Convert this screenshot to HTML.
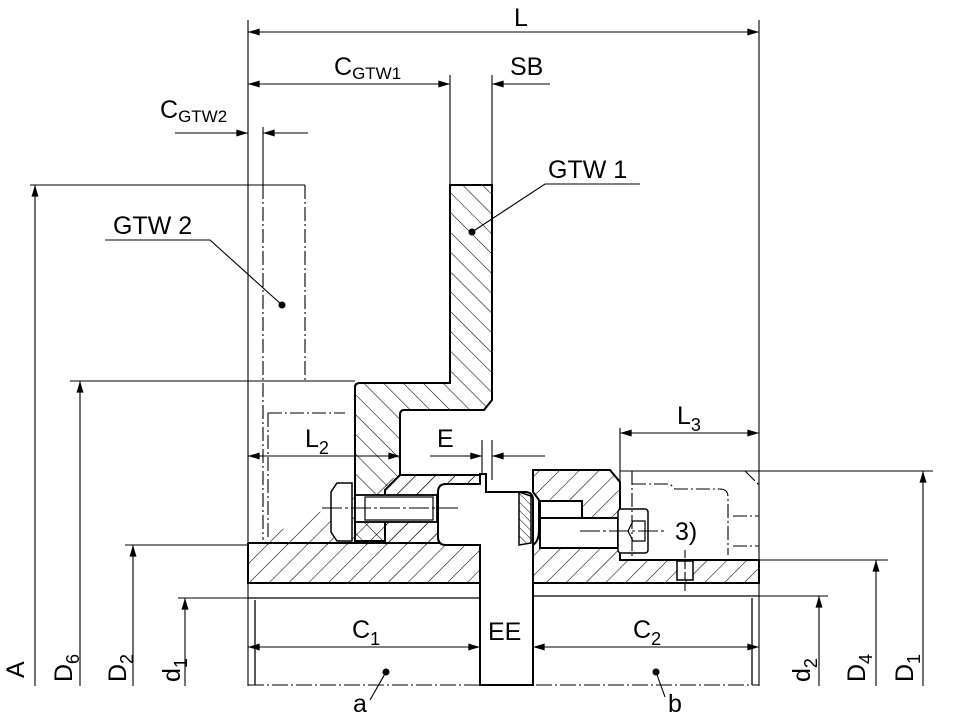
<!DOCTYPE html>
<html><head><meta charset="utf-8"><style>
html,body{margin:0;padding:0;background:#fff;}
svg{display:block;font-family:"Liberation Sans",sans-serif;}
</style></head><body>
<svg width="955" height="720" viewBox="0 0 955 720" xmlns="http://www.w3.org/2000/svg">
<defs>
<pattern id="hf" width="14" height="14" patternUnits="userSpaceOnUse" patternTransform="rotate(45)"><line x1="0" y1="0" x2="0" y2="14" stroke="#000" stroke-width="1.1"/></pattern>
<pattern id="hb" width="14" height="14" patternUnits="userSpaceOnUse" patternTransform="rotate(-45)"><line x1="0" y1="0" x2="0" y2="14" stroke="#000" stroke-width="1.1"/></pattern>
<pattern id="hs" width="6" height="6" patternUnits="userSpaceOnUse" patternTransform="rotate(-45)"><line x1="0" y1="0" x2="0" y2="6" stroke="#000" stroke-width="1"/></pattern>
<marker id="ar" viewBox="0 0 10 6" refX="10" refY="3" markerWidth="14" markerHeight="7" markerUnits="userSpaceOnUse" orient="auto-start-reverse"><path d="M0,0 L10,3 L0,6z" fill="#000"/></marker>
</defs>
<g stroke="#000" fill="none" stroke-width="1.1">
<!-- extension lines -->
<line x1="248" y1="20" x2="248" y2="686"/>
<line x1="759" y1="20" x2="759" y2="686"/>
<line x1="450" y1="75" x2="450" y2="185"/>
<line x1="492" y1="75" x2="492" y2="185"/>
<line x1="263" y1="127" x2="263" y2="185"/>
<!-- L -->
<line x1="248" y1="32" x2="759" y2="32" marker-start="url(#ar)" marker-end="url(#ar)"/>
<line x1="248" y1="84" x2="450" y2="84" marker-start="url(#ar)" marker-end="url(#ar)"/>
<line x1="550" y1="84" x2="492" y2="84" marker-end="url(#ar)"/>
<line x1="175" y1="133" x2="248" y2="133" marker-end="url(#ar)"/>
<line x1="308" y1="133" x2="263" y2="133" marker-end="url(#ar)"/>
<!-- left vertical dims -->
<line x1="30" y1="185" x2="305" y2="185"/>
<line x1="70" y1="381" x2="355" y2="381"/>
<line x1="125" y1="545" x2="248" y2="545"/>
<line x1="178" y1="598" x2="248" y2="598"/>
<line x1="35" y1="686" x2="35" y2="185" marker-end="url(#ar)"/>
<line x1="80" y1="686" x2="80" y2="381" marker-end="url(#ar)"/>
<line x1="133" y1="686" x2="133" y2="545" marker-end="url(#ar)"/>
<line x1="185" y1="686" x2="185" y2="598" marker-end="url(#ar)"/>
<!-- right vertical dims -->
<line x1="620" y1="471" x2="933" y2="471"/>
<line x1="759" y1="560" x2="888" y2="560"/>
<line x1="759" y1="596" x2="828" y2="596"/>
<line x1="923" y1="686" x2="923" y2="471" marker-end="url(#ar)"/>
<line x1="876" y1="686" x2="876" y2="560" marker-end="url(#ar)"/>
<line x1="819" y1="686" x2="819" y2="596" marker-end="url(#ar)"/>
<!-- GTW2 dash-dot -->
<path d="M263,185 V540 M305,185 V381 H355 M268,413 V540 M268,413 H345" stroke-dasharray="14,3,2,3"/>
<!-- L2, E, L3 -->
<line x1="248" y1="456" x2="400" y2="456" marker-start="url(#ar)" marker-end="url(#ar)"/>
<line x1="430" y1="456" x2="482" y2="456" marker-end="url(#ar)"/>
<line x1="545" y1="456" x2="492" y2="456" marker-end="url(#ar)"/>
<line x1="482" y1="440" x2="482" y2="480"/>
<line x1="492" y1="440" x2="492" y2="480"/>
<line x1="620" y1="433" x2="759" y2="433" marker-start="url(#ar)" marker-end="url(#ar)"/>
<line x1="620" y1="428" x2="620" y2="560"/>
<!-- bottom dims -->
<line x1="248" y1="647" x2="480" y2="647" marker-start="url(#ar)" marker-end="url(#ar)"/>
<line x1="533" y1="647" x2="759" y2="647" marker-start="url(#ar)" marker-end="url(#ar)"/>
<line x1="480" y1="647" x2="533" y2="647"/>
<line x1="248" y1="685" x2="759" y2="685" stroke-dasharray="16,3,2,3"/>
</g>
<!-- parts -->
<g stroke="#000" stroke-width="2">
<!-- GTW1 body -->
<path d="M450,185 H492 V400 L484,410 H404 Q400,410 400,415 V475 L385,490 V541 H355 V387 Q355,383 360,383 H450 Z" fill="url(#hb)"/>
<!-- left hub -->
<path d="M248,543 H480 V475 H400 L385,490 V543 M248,543 V583 H480 V543" fill="url(#hf)"/>
<path d="M400,475 H480 V545 H248" fill="url(#hf)" stroke="none"/>
<line x1="248" y1="583" x2="480" y2="583"/>
<!-- middle spacer -->
<path d="M438,492 Q438,484 446,484 H480 V474 H486 V492 H525 Q533,492 533,500 V685 H480 V545 H446 Q438,545 438,537 Z" fill="#fff"/>
<path d="M519,492 L531,496 V543 L519,545 Z" fill="url(#hs)" stroke-width="1.5"/>
<!-- right hub -->
<path d="M533,470 H610 L620,482 V560 H759 V583 H533 V545 Q539,541 539,530 V500 L533,492 Z" fill="url(#hf)"/>
<rect x="540" y="501" width="42" height="45" fill="#fff"/>
<line x1="533" y1="583" x2="759" y2="583"/>
<line x1="533" y1="596" x2="759" y2="596" stroke-width="1.3"/>
<line x1="248" y1="598" x2="480" y2="598" stroke-width="1.3"/>
<line x1="255" y1="600" x2="255" y2="685" stroke-width="1.3"/>
<line x1="752" y1="598" x2="752" y2="685" stroke-width="1.3"/>
<line x1="480" y1="583" x2="480" y2="685"/>
<!-- bolts left -->
<path d="M337,483 H352 V541 H337 L331,532 V492 Z" fill="#fff" stroke-width="1.5"/>
<rect x="355" y="495" width="82" height="27" fill="#fff" stroke-width="1.8"/>
<rect x="365" y="497" width="68" height="23" fill="none" stroke-width="1.2"/>
<!-- bolt right -->
<rect x="540" y="518" width="78" height="30" fill="#fff" stroke-width="2"/>
<rect x="618" y="509" width="30" height="44" rx="3" fill="#fff" stroke-width="1.5"/>
<path d="M633,521 L628,531 L633,541 H645 V521 Z" fill="none" stroke-width="1.2"/>
<rect x="677" y="561" width="16" height="19" fill="#fff" stroke-width="1.5"/>
</g>
<g stroke="#000" fill="none" stroke-width="1.1">
<path d="M632,471 V560 M632,484 H670 L675,489 H720 Q728,489 728,497 V555 M733,516 H759 M733,546 H759 M745,471 L759,485" stroke-dasharray="14,3,2,3"/>
<line x1="322" y1="508" x2="460" y2="508" stroke-dasharray="20,3,3,3"/>
<line x1="580" y1="531" x2="665" y2="531" stroke-dasharray="20,3,3,3"/>
<line x1="685" y1="550" x2="685" y2="592" stroke-dasharray="8,3"/>
<!-- leaders -->
<path d="M105,240 H210 L282,305"/>
<path d="M640,184 H545 L472,232"/>
<path d="M386,672 L370,700"/>
<path d="M656,672 L665,697"/>
</g>
<g fill="#000">
<circle cx="282" cy="305" r="3.5"/><circle cx="472" cy="232" r="3.5"/>
<circle cx="386" cy="672" r="3.5"/><circle cx="656" cy="672" r="3.5"/>
</g>
<g font-size="25" fill="#000">
<text x="514" y="26">L</text>
<text x="334" y="75">C<tspan font-size="17" dy="4">GTW1</tspan></text>
<text x="510" y="75">SB</text>
<text x="160" y="118">C<tspan font-size="17" dy="4">GTW2</tspan></text>
<text x="548" y="178">GTW 1</text>
<text x="113" y="234">GTW 2</text>
<text x="305" y="447">L<tspan font-size="18" dy="7">2</tspan></text>
<text x="437" y="447">E</text>
<text x="677" y="424">L<tspan font-size="18" dy="7">3</tspan></text>
<text x="675" y="540">3)</text>
<text x="352" y="638">C<tspan font-size="18" dy="7">1</tspan></text>
<text x="488" y="640">EE</text>
<text x="633" y="638">C<tspan font-size="18" dy="7">2</tspan></text>
<text x="353" y="712">a</text>
<text x="668" y="712">b</text>
<text transform="translate(24,678) rotate(-90)">A</text>
<text transform="translate(72,682) rotate(-90)">D<tspan font-size="18" dy="7">6</tspan></text>
<text transform="translate(126,682) rotate(-90)">D<tspan font-size="18" dy="7">2</tspan></text>
<text transform="translate(180,682) rotate(-90)">d<tspan font-size="18" dy="7">1</tspan></text>
<text transform="translate(810,682) rotate(-90)">d<tspan font-size="18" dy="7">2</tspan></text>
<text transform="translate(865,682) rotate(-90)">D<tspan font-size="18" dy="7">4</tspan></text>
<text transform="translate(913,682) rotate(-90)">D<tspan font-size="18" dy="7">1</tspan></text>
</g>
</svg>
</body></html>
